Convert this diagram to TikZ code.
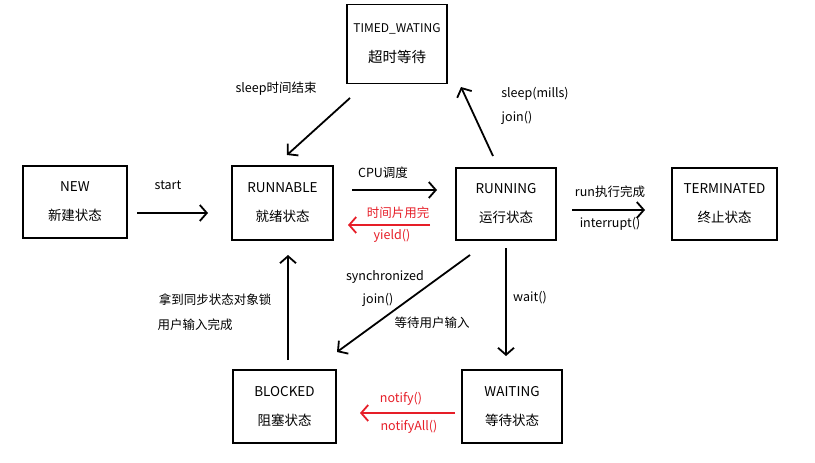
\documentclass[tikz,border=0pt]{standalone}
\usepackage{fontspec}
\setmainfont{Noto Sans CJK SC}
\usetikzlibrary{arrows.meta}
\definecolor{rd}{RGB}{230,30,40}
\begin{document}
\begin{tikzpicture}[x=1pt,y=-1pt,
  st/.style={draw,line width=1.8pt,align=center,font=\fontsize{13.5}{29}\selectfont},
  ar/.style={line width=1.8pt,-{Straight Barb[length=7pt,width=16pt,line width=1.8pt]}},
  rar/.style={ar,rd},
  lb/.style={font=\fontsize{12.5}{14}\selectfont},
  rl/.style={lb,text=rd}]
\useasboundingbox (0,0) rectangle (815,463);
\node[st,minimum width=104pt,minimum height=72pt] (new) at (75,202) {NEW\\新建状态};
\node[st,minimum width=101pt,minimum height=74pt] (runnable) at (282.5,203) {RUNNABLE\\就绪状态};
\node[st,minimum width=100pt,minimum height=72pt] (running) at (506,204) {RUNNING\\运行状态};
\node[st,minimum width=105pt,minimum height=72pt] (term) at (724.5,204) {TERMINATED\\终止状态};
\node[st,minimum width=100pt,minimum height=79pt,font=\fontsize{12}{30}\selectfont] (timed) at (397,44) {TIMED\_WATING\\{\fontsize{14.5}{16}\selectfont 超时等待}};
\node[st,minimum width=103pt,minimum height=73pt] (blocked) at (284.5,406.5) {BLOCKED\\阻塞状态};
\node[st,minimum width=100pt,minimum height=73pt] (waiting) at (512,406.5) {WAITING\\等待状态};
\coordinate (a1) at (137,213); \coordinate (a2) at (208,213);
\coordinate (b1) at (352,190); \coordinate (b2) at (437,190);
\coordinate (c1) at (430,225); \coordinate (c2) at (348,225);
\coordinate (d1) at (572,210); \coordinate (d2) at (645,210);
\coordinate (e1) at (350,98); \coordinate (e2) at (287,155);
\coordinate (f1) at (493,156); \coordinate (f2) at (461,87);
\coordinate (g1) at (470,255); \coordinate (g2) at (337,352);
\coordinate (h1) at (506,248); \coordinate (h2) at (506,356);
\coordinate (i1) at (288,360); \coordinate (i2) at (288,255);
\coordinate (j1) at (455,413); \coordinate (j2) at (360,413);
\draw[ar] (a1) -- (a2);
\draw[ar] (b1) -- (b2);
\draw[rar] (c1) -- (c2);
\draw[ar] (d1) -- (d2);
\draw[ar] (e1) -- (e2);
\draw[ar] (f1) -- (f2);
\draw[ar] (g1) -- (g2);
\draw[ar] (h1) -- (h2);
\draw[ar] (i1) -- (i2);
\draw[rar] (j1) -- (j2);
\node[lb] (l1) at (168,185) {start};
\node[lb] (l2) at (383,173) {CPU调度};
\node[rl] (l3) at (398,213) {时间片用完};
\node[rl] (l4) at (392,236) {yield()};
\node[lb] (l5) at (610,192) {run执行完成};
\node[lb] (l6) at (610,224) {interrupt()};
\node[lb] (l7) at (276,89) {sleep时间结束};
\node[lb] (l8) at (535,94) {sleep(mills)};
\node[lb] (l9) at (517,118) {join()};
\node[lb] (l10) at (385,277) {synchronized};
\node[lb] (l11) at (378,300) {join()};
\node[lb] (l12) at (432,323) {等待用户输入};
\node[lb] (l13) at (530,298) {wait()};
\node[lb] (l14) at (215,300) {拿到同步状态对象锁};
\node[lb] (l15) at (195,325) {用户输入完成};
\node[rl] (l16) at (401,399) {notify()};
\node[rl] (l17) at (409,427) {notifyAll()};
\end{tikzpicture}
\end{document}
